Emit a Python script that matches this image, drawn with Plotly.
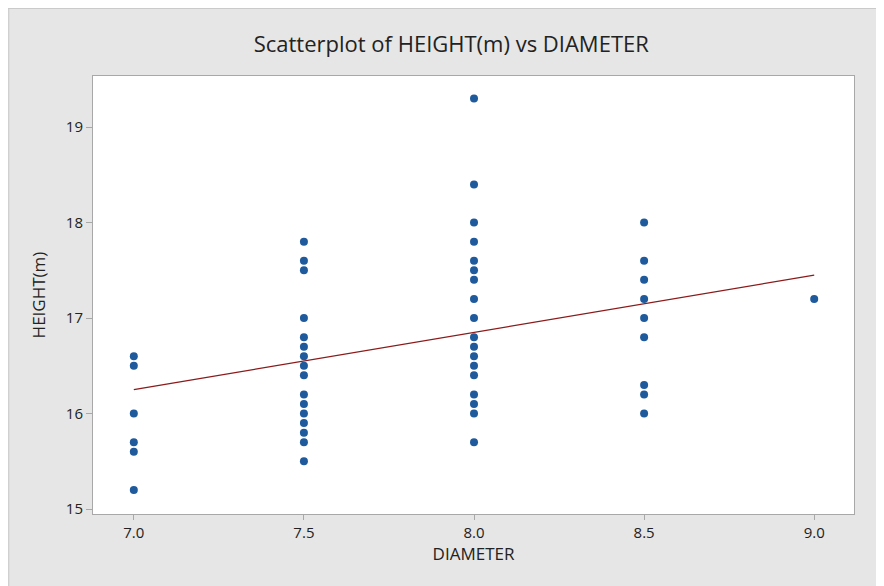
import plotly.graph_objects as go

# Data
diam_70 = [16.6, 16.5, 16.0, 15.7, 15.6, 15.2]
diam_75 = [17.8, 17.6, 17.5, 17.0, 16.8, 16.7, 16.6, 16.5, 16.4, 16.2, 16.1, 16.0, 15.9, 15.8, 15.7, 15.5]
diam_80 = [19.3, 18.4, 18.0, 17.8, 17.6, 17.5, 17.4, 17.2, 17.0, 16.8, 16.7, 16.6, 16.5, 16.4, 16.2, 16.1, 16.0, 15.7]
diam_85 = [18.0, 17.6, 17.4, 17.2, 17.0, 16.8, 16.3, 16.2, 16.0]
diam_90 = [17.2]
diameters = [7.0, 7.5, 8.0, 8.5, 9.0]
heights_by_diameter = [diam_70, diam_75, diam_80, diam_85, diam_90]

fit_x = [7.0, 9.0]
fit_y = [16.25, 17.45]

x_ticks = [7.0, 7.5, 8.0, 8.5, 9.0]
x_tick_labels = ["7.0", "7.5", "8.0", "8.5", "9.0"]
y_ticks = [15, 16, 17, 18, 19]

xs, ys = [], []
for d, hs in zip(diameters, heights_by_diameter):
    for h in hs:
        xs.append(d)
        ys.append(h)

fig = go.Figure()
fig.add_trace(go.Scatter(
    x=fit_x, y=fit_y, mode="lines",
    line=dict(color="#8B1A1A", width=1.3),
    hoverinfo="skip", showlegend=False))
fig.add_trace(go.Scatter(
    x=xs, y=ys, mode="markers",
    marker=dict(color="#1F5A9C", size=8, symbol="circle"),
    showlegend=False))

font_family = "Open Sans, DejaVu Sans, sans-serif"

W, H = 876, 578
ML, MR, MT, MB = 85, 30, 68, 72
PW, PH = W - ML - MR, H - MT - MB

fig.update_layout(
    width=W, height=H,
    paper_bgcolor="#E6E6E6",
    plot_bgcolor="#FFFFFF",
    margin=dict(l=ML, r=MR, t=MT, b=MB),
    title=dict(text="Scatterplot of HEIGHT(m) vs DIAMETER",
               x=0.506, xref="container", xanchor="center",
               y=0.938, yref="container", yanchor="middle",
               font=dict(family=font_family, size=22, color="#222222")),
    font=dict(family=font_family, color="#222222"),
    xaxis=dict(range=[6.88, 9.117], tickvals=x_ticks, ticktext=x_tick_labels,
               showgrid=False, zeroline=False,
               showline=True, mirror=True, linecolor="#A8A8A8", linewidth=1,
               ticks="outside", ticklen=5, tickcolor="#A8A8A8",
               tickfont=dict(size=15, color="#222222"),
               title=dict(text="DIAMETER", standoff=0,
                          font=dict(size=17, color="#222222"))),
    yaxis=dict(range=[14.948, 19.535], tickvals=y_ticks,
               showgrid=False, zeroline=False,
               showline=True, mirror=True, linecolor="#A8A8A8", linewidth=1,
               ticks="outside", ticklen=6, tickcolor="#A8A8A8",
               tickfont=dict(size=15, color="#222222"),
               title=dict(text="HEIGHT(m)", standoff=15,
                          font=dict(size=17, color="#222222"))),
    shapes=[
        dict(type="line", xref="paper", yref="paper",
             x0=-ML / PW, x1=1 + MR / PW, y0=1 + MT / PH - 0.001, y1=1 + MT / PH - 0.001,
             line=dict(color="#C8C8C8", width=1)),
        dict(type="line", xref="paper", yref="paper",
             x0=-ML / PW + 0.001, x1=-ML / PW + 0.001, y0=-MB / PH, y1=1 + MT / PH,
             line=dict(color="#C8C8C8", width=1)),
    ],
)

fig.write_html("out.html")
